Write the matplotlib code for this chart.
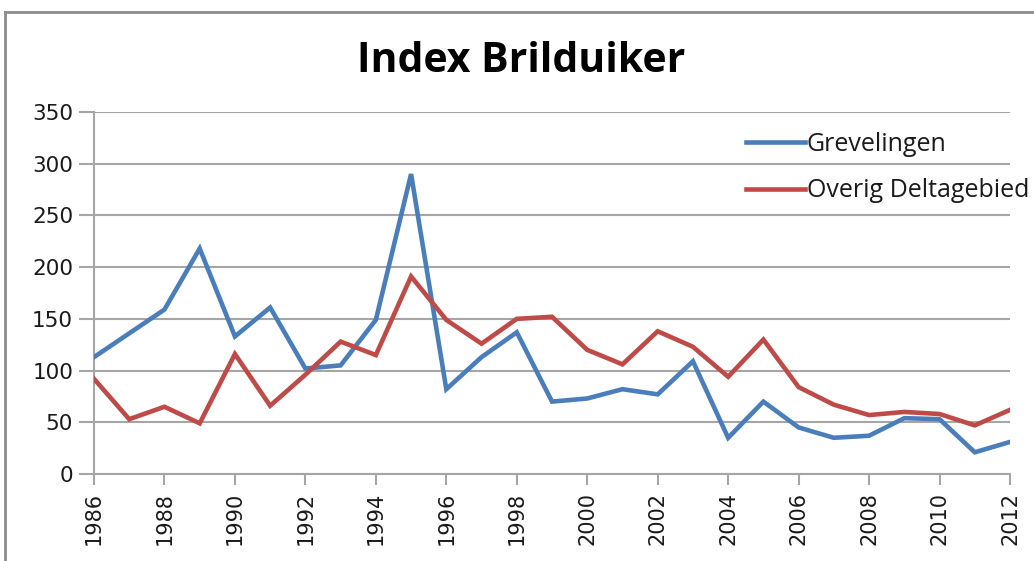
import matplotlib
matplotlib.use("Agg")
import matplotlib.pyplot as plt
from matplotlib.lines import Line2D

years = list(range(1986, 2013))
grevelingen = [113, 136, 159, 218, 133, 161, 102, 105, 149, 290,
               82, 113, 137, 70, 73, 82, 77, 109, 35, 70,
               45, 35, 37, 54, 53, 21, 31]
overig = [92, 53, 65, 49, 116, 66, 96, 128, 115, 191,
          149, 126, 150, 152, 120, 106, 138, 123, 94, 130,
          84, 67, 57, 60, 58, 47, 62]
xticks = list(range(1986, 2013, 2))
yticks = list(range(0, 351, 50))
title = "Index Brilduiker"
labels = ["Grevelingen", "Overig Deltagebied"]

W, H = 1034, 561
fig = plt.figure(figsize=(W / 100, H / 100), dpi=100)
ax = fig.add_axes([94 / W, 1 - 474 / H, (1010 - 94) / W, (474 - 112) / H])

gridc = "#A6A6A6"
ax.plot(years, grevelingen, color="#4A7EBB", lw=3.3, solid_joinstyle="miter", label=labels[0], zorder=3)
ax.plot(years, overig, color="#BE4B48", lw=3.3, solid_joinstyle="miter", label=labels[1], zorder=4)

ax.set_xlim(1986, 2012)
ax.set_ylim(0, 350)
ax.set_xticks(xticks)
ax.set_yticks(yticks)
ax.set_xticklabels([str(x) for x in xticks], rotation=90, fontsize=15, family="DejaVu Sans", color="#1a1a1a")
ax.set_yticklabels([str(y) for y in yticks], fontsize=15.5, family="DejaVu Sans", color="#1a1a1a")
ax.yaxis.grid(True, color=gridc, lw=1.5)
ax.set_axisbelow(True)
for s in ["top", "right"]:
    ax.spines[s].set_visible(False)
for s in ["left", "bottom"]:
    ax.spines[s].set_color(gridc)
    ax.spines[s].set_linewidth(1.5)
ax.tick_params(axis="y", length=11, width=1.5, color=gridc, pad=4)
ax.tick_params(axis="x", length=8, width=1.5, color=gridc, pad=5)

fig.text(521 / W, 1 - 62 / H, title, ha="center", va="center", fontsize=29.5,
         fontweight="bold", family="Open Sans", color="#000000")

leg = ax.legend(loc="upper left", bbox_to_anchor=((746 - 94) / (1010 - 94), (474 - 132) / (474 - 112)),
                frameon=False, prop={"family": "Open Sans", "size": 18}, handlelength=2.35,
                handletextpad=0.08, labelspacing=0.85, borderaxespad=0, borderpad=0)
for t in leg.get_texts():
    t.set_color("#1a1a1a")

# outer chart border (left and top visible)
fig.add_artist(Line2D([4.5 / W, 4.5 / W], [0, 1 - 11.5 / H], transform=fig.transFigure, color="#8C8C8C", lw=2))
fig.add_artist(Line2D([4.5 / W, 1], [1 - 11.5 / H, 1 - 11.5 / H], transform=fig.transFigure, color="#8C8C8C", lw=2))

fig.savefig("out.png", dpi=100)
